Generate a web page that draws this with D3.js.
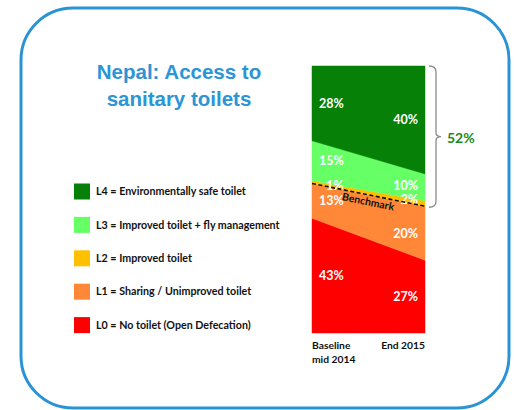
<!DOCTYPE html>
<html>
<head>
<meta charset="utf-8">
<script src="https://cdn.jsdelivr.net/npm/d3@7"></script>
<style>
  html, body { margin: 0; padding: 0; background: #fff; }
  svg { display: block; }
  text { font-family: Lato, "Liberation Sans", sans-serif; font-weight: bold; }
</style>
</head>
<body>
<svg id="chart" width="514" height="410"></svg>
<script>
// Sanitation levels, from bottom of the stack to top
const levels = ["L0", "L1", "L2", "L3", "L4"];
const levelLabels = [
  "L0 = No toilet (Open Defecation)",
  "L1 = Sharing / Unimproved toilet",
  "L2 = Improved toilet",
  "L3 = Improved toilet + fly management",
  "L4 = Environmentally safe toilet"
];
const levelColors = ["#ff0000", "#ff8838", "#ffc000", "#66ff66", "#068006"];

// Two survey points
const periods = ["Baseline mid 2014", "End 2015"];
const periodLines = [["Baseline", "mid 2014"], ["End 2015"]];

// Share of households (%) per level, per period
const baseline = [43, 13, 1, 15, 28];
const end2015  = [27, 20, 2, 10, 40];

const titleLines = ["Nepal: Access to", "sanitary toilets"];
const benchmarkLabel = "Benchmark";

const svg = d3.select("#chart");

// rounded frame
svg.append("rect")
  .attr("x", 21).attr("y", 8)
  .attr("width", 488).attr("height", 400)
  .attr("rx", 52).attr("ry", 52)
  .attr("fill", "none")
  .attr("stroke", "#2a93d5")
  .attr("stroke-width", 3);

// title
svg.append("text")
  .attr("x", 179).attr("text-anchor", "middle")
  .attr("fill", "#2b95d6")
  .style("font-family", "'Liberation Sans', Arial, sans-serif")
  .style("font-size", "20.5px")
  .selectAll("tspan").data(titleLines).join("tspan")
  .attr("x", 179)
  .attr("y", (d, i) => 79 + i * 26.5)
  .text(d => d);

// rows: one object per period, with a field per level
const rows = periods.map((p, j) => {
  const src = j === 0 ? baseline : end2015;
  const r = { period: p };
  levels.forEach((k, i) => r[k] = src[i]);
  return r;
});

const x = d3.scalePoint().domain(periods).range([312, 425]);
const y = d3.scaleLinear().domain([0, 1]).range([333, 66]);

const stack = d3.stack().keys(levels).offset(d3.stackOffsetExpand);
const series = stack(rows);

const area = d3.area()
  .x(d => x(d.data.period))
  .y0(d => y(d[0]))
  .y1(d => y(d[1]));

svg.append("g").selectAll("path").data(series).join("path")
  .attr("d", area)
  .attr("fill", (d, i) => levelColors[i])
  .attr("stroke", (d, i) => levelColors[i])
  .attr("stroke-width", 0.5);

// percentage labels at each edge of the band; labels in one column are
// walked bottom-up and pushed upward so they never collide
const labelG = svg.append("g")
  .attr("fill", "#fff")
  .style("font-size", "12.5px");
const minGap = 14;
periods.forEach((p, j) => {
  const src = j === 0 ? baseline : end2015;
  let prevY = Infinity;
  series.forEach((s, i) => {
    const d = s[j];
    const thin = src[i] < 5;
    const nudge = thin ? (j === 0 ? 3 : -4) : 0;
    let ly = y((d[0] + d[1]) / 2) + nudge;
    if (prevY - ly < minGap) ly = prevY - minGap;
    prevY = ly;
    labelG.append("text")
      .attr("x", j === 0 ? x(p) + (thin ? 14 : 7) : x(p) - 7)
      .attr("y", ly)
      .attr("dy", "0.35em")
      .attr("text-anchor", j === 0 ? "start" : "end")
      .text(src[i] + "%");
  });
});

// benchmark: top edge of L1 (everything above is an improved toilet)
const l1 = series[1];
const bx0 = x(periods[0]), by0 = y(l1[0][1]);
const bx1 = x(periods[1]), by1 = y(l1[1][1]);
svg.append("line")
  .attr("x1", bx0).attr("y1", by0)
  .attr("x2", bx1).attr("y2", by1)
  .attr("stroke", "#111")
  .attr("stroke-width", 1.6)
  .attr("stroke-dasharray", "4,2.5");

const angle = Math.atan2(by1 - by0, bx1 - bx0) * 180 / Math.PI;
const bmx = (bx0 + bx1) / 2 + 1;
const bmy = by0 + (by1 - by0) * ((bmx - bx0) / (bx1 - bx0));
svg.append("text")
  .attr("transform", `translate(${bmx},${bmy}) rotate(${angle})`)
  .attr("y", 10.5)
  .attr("text-anchor", "middle")
  .attr("fill", "#111")
  .style("font-size", "10.5px")
  .text(benchmarkLabel);

// brace over L2..L4 at the end point
const endImproved = d3.sum(end2015.slice(2));
const topY = y(1), botY = by1 + 1;
const midY = (topY + botY) / 2;
const bx = 429, bw = 7;
svg.append("path")
  .attr("d", `M${bx},${topY} Q${bx + bw},${topY} ${bx + bw},${topY + 6}
              L${bx + bw},${midY - 4} Q${bx + bw},${midY} ${bx + bw + 5},${midY}
              Q${bx + bw},${midY} ${bx + bw},${midY + 4}
              L${bx + bw},${botY - 6} Q${bx + bw},${botY} ${bx},${botY}`)
  .attr("fill", "none")
  .attr("stroke", "#8a8a8a")
  .attr("stroke-width", 1.3);

svg.append("text")
  .attr("x", 447).attr("y", midY + 1)
  .attr("dy", "0.35em")
  .attr("fill", "#1b8a1b")
  .style("font-size", "14px")
  .text(endImproved + "%");

// period labels under the chart
periods.forEach((p, j) => {
  svg.append("text")
    .attr("x", x(p))
    .attr("text-anchor", j === 0 ? "start" : "end")
    .attr("fill", "#111")
    .style("font-size", "10.3px")
    .selectAll("tspan").data(periodLines[j]).join("tspan")
    .attr("x", x(p))
    .attr("y", (d, i) => 349 + i * 14)
    .text(d => d);
});

// legend, top level first
const legendOrder = d3.range(levels.length).reverse();
const leg = svg.append("g").selectAll("g").data(legendOrder).join("g")
  .attr("transform", (d, i) => `translate(74,${191.5 + i * 33.4})`);
leg.append("rect")
  .attr("x", 0).attr("y", -8)
  .attr("width", 16).attr("height", 16)
  .attr("fill", d => levelColors[d]);
leg.append("text")
  .attr("x", 22).attr("dy", "0.35em")
  .attr("fill", "#111")
  .style("font-size", "10.7px")
  .text(d => levelLabels[d]);
</script>
</body>
</html>
